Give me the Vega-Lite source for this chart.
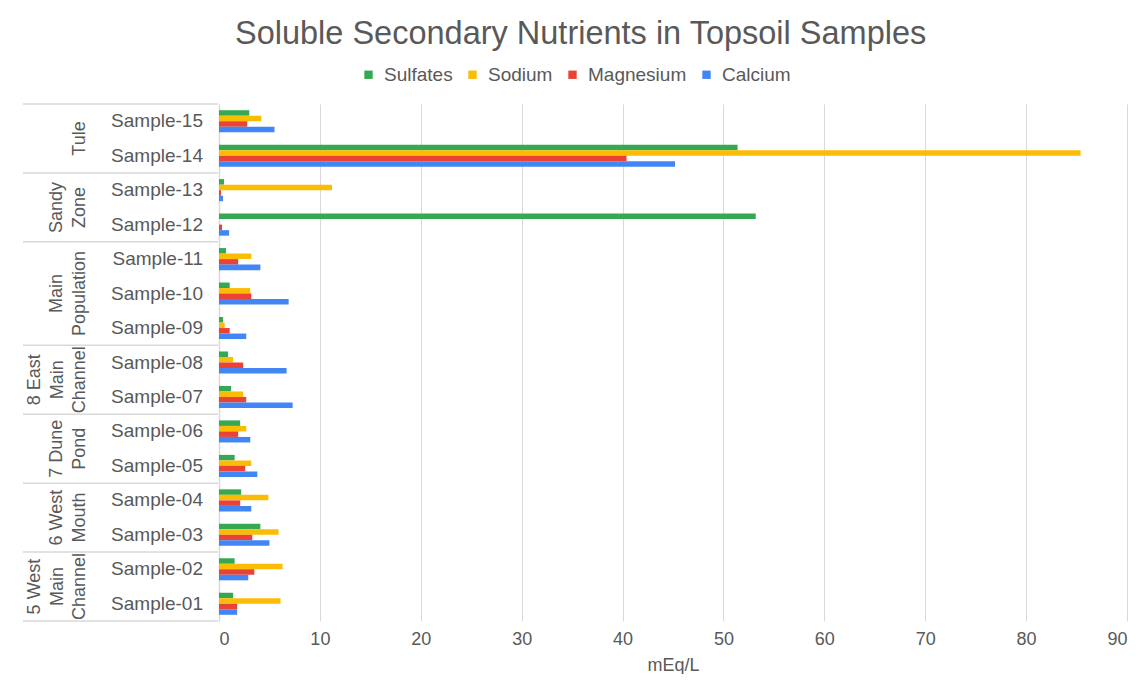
{
  "$schema": "https://vega.github.io/schema/vega-lite/v6.json",
  "padding": {"left": 22, "top": 17, "right": 6, "bottom": 0},
  "title": {"text": "Soluble Secondary Nutrients in Topsoil Samples", "fontSize": 32.5, "font": "Liberation Sans", "fontWeight": "normal", "color": "#595959", "anchor": "middle", "offset": 15, "dx": 6},
  "config": {"font": "Liberation Sans", "view": {"stroke": null}, "legend": {"layout": {"top": {"anchor": "middle"}}}},
  "datasets": {
    "bars": [
      {"sample": "Sample-15", "nutrient": "Sulfates", "value": 3.0},
      {"sample": "Sample-15", "nutrient": "Sodium", "value": 4.2},
      {"sample": "Sample-15", "nutrient": "Magnesium", "value": 2.8},
      {"sample": "Sample-15", "nutrient": "Calcium", "value": 5.5},
      {"sample": "Sample-14", "nutrient": "Sulfates", "value": 51.4},
      {"sample": "Sample-14", "nutrient": "Sodium", "value": 85.4},
      {"sample": "Sample-14", "nutrient": "Magnesium", "value": 40.4},
      {"sample": "Sample-14", "nutrient": "Calcium", "value": 45.2},
      {"sample": "Sample-13", "nutrient": "Sulfates", "value": 0.5},
      {"sample": "Sample-13", "nutrient": "Sodium", "value": 11.2},
      {"sample": "Sample-13", "nutrient": "Magnesium", "value": 0.2},
      {"sample": "Sample-13", "nutrient": "Calcium", "value": 0.4},
      {"sample": "Sample-12", "nutrient": "Sulfates", "value": 53.2},
      {"sample": "Sample-12", "nutrient": "Sodium", "value": 0},
      {"sample": "Sample-12", "nutrient": "Magnesium", "value": 0.3},
      {"sample": "Sample-12", "nutrient": "Calcium", "value": 1.0},
      {"sample": "Sample-11", "nutrient": "Sulfates", "value": 0.7},
      {"sample": "Sample-11", "nutrient": "Sodium", "value": 3.2},
      {"sample": "Sample-11", "nutrient": "Magnesium", "value": 1.9},
      {"sample": "Sample-11", "nutrient": "Calcium", "value": 4.1},
      {"sample": "Sample-10", "nutrient": "Sulfates", "value": 1.06},
      {"sample": "Sample-10", "nutrient": "Sodium", "value": 3.1},
      {"sample": "Sample-10", "nutrient": "Magnesium", "value": 3.2},
      {"sample": "Sample-10", "nutrient": "Calcium", "value": 6.9},
      {"sample": "Sample-09", "nutrient": "Sulfates", "value": 0.4},
      {"sample": "Sample-09", "nutrient": "Sodium", "value": 0.56},
      {"sample": "Sample-09", "nutrient": "Magnesium", "value": 1.06},
      {"sample": "Sample-09", "nutrient": "Calcium", "value": 2.7},
      {"sample": "Sample-08", "nutrient": "Sulfates", "value": 0.9},
      {"sample": "Sample-08", "nutrient": "Sodium", "value": 1.4},
      {"sample": "Sample-08", "nutrient": "Magnesium", "value": 2.4},
      {"sample": "Sample-08", "nutrient": "Calcium", "value": 6.7},
      {"sample": "Sample-07", "nutrient": "Sulfates", "value": 1.2},
      {"sample": "Sample-07", "nutrient": "Sodium", "value": 2.4},
      {"sample": "Sample-07", "nutrient": "Magnesium", "value": 2.7},
      {"sample": "Sample-07", "nutrient": "Calcium", "value": 7.3},
      {"sample": "Sample-06", "nutrient": "Sulfates", "value": 2.1},
      {"sample": "Sample-06", "nutrient": "Sodium", "value": 2.7},
      {"sample": "Sample-06", "nutrient": "Magnesium", "value": 1.9},
      {"sample": "Sample-06", "nutrient": "Calcium", "value": 3.1},
      {"sample": "Sample-05", "nutrient": "Sulfates", "value": 1.55},
      {"sample": "Sample-05", "nutrient": "Sodium", "value": 3.2},
      {"sample": "Sample-05", "nutrient": "Magnesium", "value": 2.6},
      {"sample": "Sample-05", "nutrient": "Calcium", "value": 3.8},
      {"sample": "Sample-04", "nutrient": "Sulfates", "value": 2.2},
      {"sample": "Sample-04", "nutrient": "Sodium", "value": 4.9},
      {"sample": "Sample-04", "nutrient": "Magnesium", "value": 2.1},
      {"sample": "Sample-04", "nutrient": "Calcium", "value": 3.2},
      {"sample": "Sample-03", "nutrient": "Sulfates", "value": 4.1},
      {"sample": "Sample-03", "nutrient": "Sodium", "value": 5.9},
      {"sample": "Sample-03", "nutrient": "Magnesium", "value": 3.3},
      {"sample": "Sample-03", "nutrient": "Calcium", "value": 5.0},
      {"sample": "Sample-02", "nutrient": "Sulfates", "value": 1.55},
      {"sample": "Sample-02", "nutrient": "Sodium", "value": 6.3},
      {"sample": "Sample-02", "nutrient": "Magnesium", "value": 3.5},
      {"sample": "Sample-02", "nutrient": "Calcium", "value": 2.9},
      {"sample": "Sample-01", "nutrient": "Sulfates", "value": 1.4},
      {"sample": "Sample-01", "nutrient": "Sodium", "value": 6.1},
      {"sample": "Sample-01", "nutrient": "Magnesium", "value": 1.8},
      {"sample": "Sample-01", "nutrient": "Calcium", "value": 1.8}
    ],
    "samples": [
      {"sample": "Sample-15"}, {"sample": "Sample-14"}, {"sample": "Sample-13"}, {"sample": "Sample-12"},
      {"sample": "Sample-11"}, {"sample": "Sample-10"}, {"sample": "Sample-09"}, {"sample": "Sample-08"},
      {"sample": "Sample-07"}, {"sample": "Sample-06"}, {"sample": "Sample-05"}, {"sample": "Sample-04"},
      {"sample": "Sample-03"}, {"sample": "Sample-02"}, {"sample": "Sample-01"}
    ],
    "tops": [
      {"sample": "Sample-15"}, {"sample": "Sample-13"}, {"sample": "Sample-11"}, {"sample": "Sample-08"},
      {"sample": "Sample-06"}, {"sample": "Sample-04"}, {"sample": "Sample-02"}
    ],
    "groups1": [
      {"top": "Sample-15", "label": "Tule"}
    ],
    "groups2": [
      {"top": "Sample-13", "label": "Sandy\nZone"},
      {"top": "Sample-06", "label": "7 Dune\nPond"},
      {"top": "Sample-04", "label": "6 West\nMouth"}
    ],
    "groups3": [
      {"top": "Sample-08", "label": "8 East\nMain\nChannel"},
      {"top": "Sample-02", "label": "5 West\nMain\nChannel"}
    ],
    "groupsMid": [
      {"top": "Sample-10", "label": "Main\nPopulation"}
    ]
  },
  "spacing": 0,
  "resolve": {"scale": {"y": "independent", "x": "independent"}},
  "hconcat": [
    {
      "width": 195,
      "height": 517,
      "layer": [
        {
          "data": {"name": "tops"},
          "mark": {"type": "rule", "color": "#d9d9d9", "strokeWidth": 1.5},
          "encoding": {
            "y": {"field": "sample", "type": "nominal", "bandPosition": 0,
              "scale": {"domain": ["Sample-15","Sample-14","Sample-13","Sample-12","Sample-11","Sample-10","Sample-09","Sample-08","Sample-07","Sample-06","Sample-05","Sample-04","Sample-03","Sample-02","Sample-01"], "paddingInner": 0, "paddingOuter": 0},
              "axis": null}
          }
        },
        {
          "data": {"values": [{"sample": "Sample-01"}]},
          "mark": {"type": "rule", "color": "#d9d9d9", "strokeWidth": 1.5},
          "encoding": {
            "y": {"field": "sample", "type": "nominal", "bandPosition": 1, "axis": null}
          }
        },
        {
          "data": {"name": "samples"},
          "mark": {"type": "text", "align": "right", "baseline": "middle", "fontSize": 19, "color": "#595959"},
          "encoding": {
            "y": {"field": "sample", "type": "nominal", "axis": null},
            "x": {"datum": 0.923, "type": "quantitative", "scale": {"domain": [0, 1]}, "axis": null},
            "text": {"field": "sample"}
          }
        },
        {
          "data": {"name": "groups1"},
          "mark": {"type": "text", "angle": 270, "align": "center", "baseline": "bottom", "lineBreak": "\n", "lineHeight": 22.5, "fontSize": 18, "color": "#595959"},
          "encoding": {
            "y": {"field": "top", "type": "nominal", "bandPosition": 1, "axis": null},
            "x": {"datum": 0.338, "type": "quantitative", "axis": null},
            "text": {"field": "label"}
          }
        },
        {
          "data": {"name": "groups2"},
          "mark": {"type": "text", "angle": 270, "align": "center", "baseline": "bottom", "lineBreak": "\n", "lineHeight": 22.5, "fontSize": 18, "color": "#595959"},
          "encoding": {
            "y": {"field": "top", "type": "nominal", "bandPosition": 1, "axis": null},
            "x": {"datum": 0.223, "type": "quantitative", "axis": null},
            "text": {"field": "label"}
          }
        },
        {
          "data": {"name": "groups3"},
          "mark": {"type": "text", "angle": 270, "align": "center", "baseline": "bottom", "lineBreak": "\n", "lineHeight": 22.5, "fontSize": 18, "color": "#595959"},
          "encoding": {
            "y": {"field": "top", "type": "nominal", "bandPosition": 1, "axis": null},
            "x": {"datum": 0.108, "type": "quantitative", "axis": null},
            "text": {"field": "label"}
          }
        },
        {
          "data": {"name": "groupsMid"},
          "mark": {"type": "text", "angle": 270, "align": "center", "baseline": "bottom", "lineBreak": "\n", "lineHeight": 22.5, "fontSize": 18, "color": "#595959"},
          "encoding": {
            "y": {"field": "top", "type": "nominal", "bandPosition": 0.5, "axis": null},
            "x": {"datum": 0.223, "type": "quantitative", "axis": null},
            "text": {"field": "label"}
          }
        }
      ]
    },
    {
      "width": 908,
      "height": 517,
      "data": {"name": "bars"},
      "mark": {"type": "bar"},
      "encoding": {
        "y": {"field": "sample", "type": "nominal",
          "scale": {"domain": ["Sample-15","Sample-14","Sample-13","Sample-12","Sample-11","Sample-10","Sample-09","Sample-08","Sample-07","Sample-06","Sample-05","Sample-04","Sample-03","Sample-02","Sample-01"], "paddingInner": 0.36, "paddingOuter": 0.18},
          "axis": {"labels": false, "ticks": false, "title": null, "domainColor": "#d9d9d9", "domainWidth": 1.5, "grid": false}},
        "yOffset": {"field": "nutrient", "type": "nominal", "scale": {"domain": ["Sulfates", "Sodium", "Magnesium", "Calcium"], "paddingInner": 0, "paddingOuter": 0}},
        "x": {"field": "value", "type": "quantitative", "scale": {"domain": [0, 90], "nice": false},
          "axis": {"values": [0, 10, 20, 30, 40, 50, 60, 70, 80, 90], "grid": true, "gridColor": "#d9d9d9", "domain": false, "ticks": false, "tickSize": 0, "labelFontSize": 18, "labelColor": "#595959", "labelPadding": 9, "title": "mEq/L", "titleFontSize": 18, "titleFontWeight": "normal", "titleColor": "#595959", "titlePadding": 8}},
        "color": {"field": "nutrient", "type": "nominal",
          "scale": {"domain": ["Sulfates", "Sodium", "Magnesium", "Calcium"], "range": ["#34A853", "#FBBC04", "#EA4335", "#4285F4"]},
          "legend": {"orient": "top", "direction": "horizontal", "title": null, "symbolType": "square", "symbolSize": 70, "symbolStrokeWidth": 0, "labelFontSize": 19, "labelColor": "#595959", "columnPadding": 10, "labelOffset": 6, "offset": 18}}
      }
    }
  ]
}
